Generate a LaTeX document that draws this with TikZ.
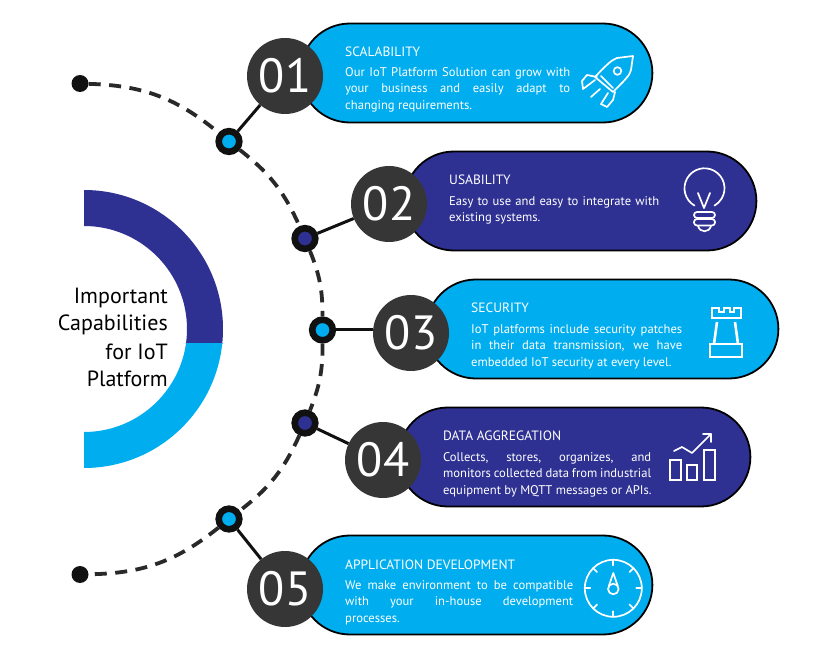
\documentclass[tikz,border=0pt]{standalone}
\usepackage{fontspec}
\setmainfont{PT Sans}
\usetikzlibrary{calc}
\definecolor{cyanb}{HTML}{00AEEF}
\definecolor{navyb}{HTML}{2E3192}
\definecolor{numgray}{HTML}{363636}
\definecolor{inkb}{HTML}{111111}
\newcommand{\jl}[2]{\hbox to #1pt{#2}}
\newcommand{\nl}[1]{\hbox{#1}}
\tikzset{
  x=1pt,y=-1pt,
  pill/.style={draw=black,line width=1.8pt,rounded corners=49.5pt,minimum width=352pt,minimum height=99pt,inner sep=0pt,fill=#1},
  num/.style={circle,fill=numgray,minimum size=76pt,inner sep=0pt,text=white,font=\fontsize{48}{48}\selectfont},
  dot/.style={circle,draw=inkb,line width=6.6pt,fill=#1,minimum size=20.6pt,inner sep=0pt},
  enddot/.style={circle,fill=inkb,minimum size=17pt,inner sep=0pt},
  link/.style={draw=inkb,line width=3pt},
  dashline/.style={draw=inkb!90!white,line width=3.8pt,dash pattern=on 12pt off 8.5pt},
  ttl/.style={anchor=west,inner sep=0pt,text=white,font=\fontsize{13.5}{14}\selectfont},
  body/.style={anchor=north west,inner sep=0pt,text=white,font=\fontsize{12.6}{16.5}\selectfont,align=left},
  icon/.style={draw=white,line width=1.7pt,line join=round,line cap=round},
  iconb/.style={draw=white,line width=2.6pt,line join=miter},
  head/.style={anchor=east,inner sep=0pt,text=black,font=\fontsize{22}{22}\selectfont}
}
\begin{document}
\begin{tikzpicture}
\useasboundingbox (0,0) rectangle (831,655);
% ring
\begin{scope}
\clip (84,180) rectangle (240,344);
\fill[navyb] (84,190) arc[start angle=90,end angle=-90,radius=139pt] -- (84,432) arc[start angle=-90,end angle=90,radius=103pt] -- cycle;
\end{scope}
\begin{scope}
\clip (84,344) rectangle (240,480);
\fill[cyanb] (84,190) arc[start angle=90,end angle=-90,radius=139pt] -- (84,432) arc[start angle=-90,end angle=90,radius=103pt] -- cycle;
\end{scope}
\node[head] (h1) at (168,298) {Important};
\node[head] (h2) at (168,325) {Capabilities};
\node[head] (h3) at (168,352) {for IoT};
\node[head] (h4) at (168,379) {Platform};
% pills
\node[pill=cyanb,anchor=west] (p1) at (299.5,73) {};
\node[pill=navyb,anchor=west] (p2) at (403.5,201) {};
\node[pill=cyanb,anchor=west] (p3) at (425.5,329) {};
\node[pill=navyb,anchor=west] (p4) at (397.5,457) {};
\node[pill=cyanb,anchor=west] (p5) at (299.5,585) {};
% dots
\node[enddot] (e1) at (80,83.5) {};
\node[enddot] (e2) at (80,574.5) {};
\node[dot=cyanb] (d1) at (229,141.5) {};
\node[dot=navyb] (d2) at (305,238.5) {};
\node[dot=cyanb] (d3) at (322.5,330) {};
\node[dot=navyb] (d4) at (305,423) {};
\node[dot=cyanb] (d5) at (229,519) {};
% numbers
\node[num] (n1) at (285,76) {01};
\node[num] (n2) at (389,204) {02};
\node[num] (n3) at (411,333) {03};
\node[num] (n4) at (383,460) {04};
\node[num] (n5) at (285,589) {05};
% connectors
\draw[link] (d1) -- (n1);
\draw[link] (d2) -- (n2);
\draw[link] (d3) -- (d3 -| n3.west);
\draw[link] (d4) -- (n4);
\draw[link] (d5) -- (n5);
\draw[dashline] (e1) to[bend left=19] (d1);
\draw[dashline] (d1) to[bend left=14] (d2);
\draw[dashline] (d2) to[bend left=11] (d3);
\draw[dashline] (d3) to[bend left=11] (d4);
\draw[dashline] (d4) to[bend left=14] (d5);
\draw[dashline] (d5) to[bend left=19] (e2);
% texts
\node[ttl] (t1) at (345,52) {SCALABILITY};
\node[body] (b1) at (345,67) {\jl{225}{Our IoT Platform Solution can grow with}\\\jl{225}{your business and easily adapt to}\\\nl{changing requirements.}};
\node[ttl] (t2) at (449,180) {USABILITY};
\node[body] (b2) at (449,196) {\jl{210}{Easy to use and easy to integrate with}\\\nl{existing systems.}};
\node[ttl] (t3) at (471,308) {SECURITY};
\node[body] (b3) at (471,324) {\jl{211}{IoT platforms include security patches}\\\jl{211}{in their data transmission, we have}\\\nl{embedded IoT security at every level.}};
\node[ttl] (t4) at (443,436) {DATA AGGREGATION};
\node[body] (b4) at (443,452) {\jl{208}{Collects, stores, organizes, and}\\\jl{208}{monitors collected data from industrial}\\\nl{equipment by MQTT messages or APIs.}};
\node[ttl] (t5) at (345,565) {APPLICATION DEVELOPMENT};
\node[body] (b5) at (345,580) {\jl{228}{We make environment to be compatible}\\\jl{228}{with your in-house development}\\\nl{processes.}};
% rocket
\draw[icon] (633,56) -- (617,58) .. controls (612,60) and (608,63) .. (595,77) -- (613,92) .. controls (625,80) and (630,75) .. (631,70) -- cycle;
\draw[icon] (597,77) -- (587,75) -- (582,81) -- (583,89) -- (595,80);
\draw[icon] (615,92) -- (613,100) -- (607,107) -- (601,104) -- (608,93);
\draw[icon] (591,97) -- (600,89);
\draw[icon] (617.5,71) circle[radius=3.8pt];
\draw[icon] (601,76) -- (613,88);
% bulb
\draw[icon] (694.5,205.6) arc[start angle=240,end angle=-60,radius=20pt];
\draw[icon] (698,193) -- (704,208) -- (710,193);
\draw[icon,rounded corners=3pt] (694,212) rectangle (715,218);
\draw[icon,rounded corners=3pt] (694,219) rectangle (715,225.5);
\draw[icon] (698,226) .. controls (700,233) and (709,233) .. (711,226);
% rook
\draw[iconb] (712,308) -- (719,308) -- (719,312) -- (724,312) -- (724,308) -- (730,308) -- (730,312) -- (734,312) -- (734,308) -- (741,308) -- (741,318) -- (712,318) -- cycle;
\draw[iconb] (717,322) -- (714,344) (735,322) -- (738,344);
\draw[iconb] (710,344) rectangle (742,357);
% chart
\draw[iconb] (670,460) rectangle (681,480);
\draw[iconb] (687,465) rectangle (697,480);
\draw[iconb] (704,450) rectangle (715,480);
\draw[icon] (674,451) -- (682,447) -- (692,453) -- (711,434);
\draw[icon] (703,434) -- (711,434) -- (711,442);
% compass
\draw[icon] (613.3,588.3) circle[radius=28.5pt];
\foreach \a in {0,45,...,315}{
  \draw[icon] ($(613.3,588.3)+(\a:28.5pt)$) -- ($(613.3,588.3)+(\a:23pt)$);
}
\draw[icon] (613.3,589) circle[radius=5.3pt];
\draw[icon] (608.7,586.5) -- (613.3,573) -- (617.9,586.5);
\end{tikzpicture}
\end{document}
